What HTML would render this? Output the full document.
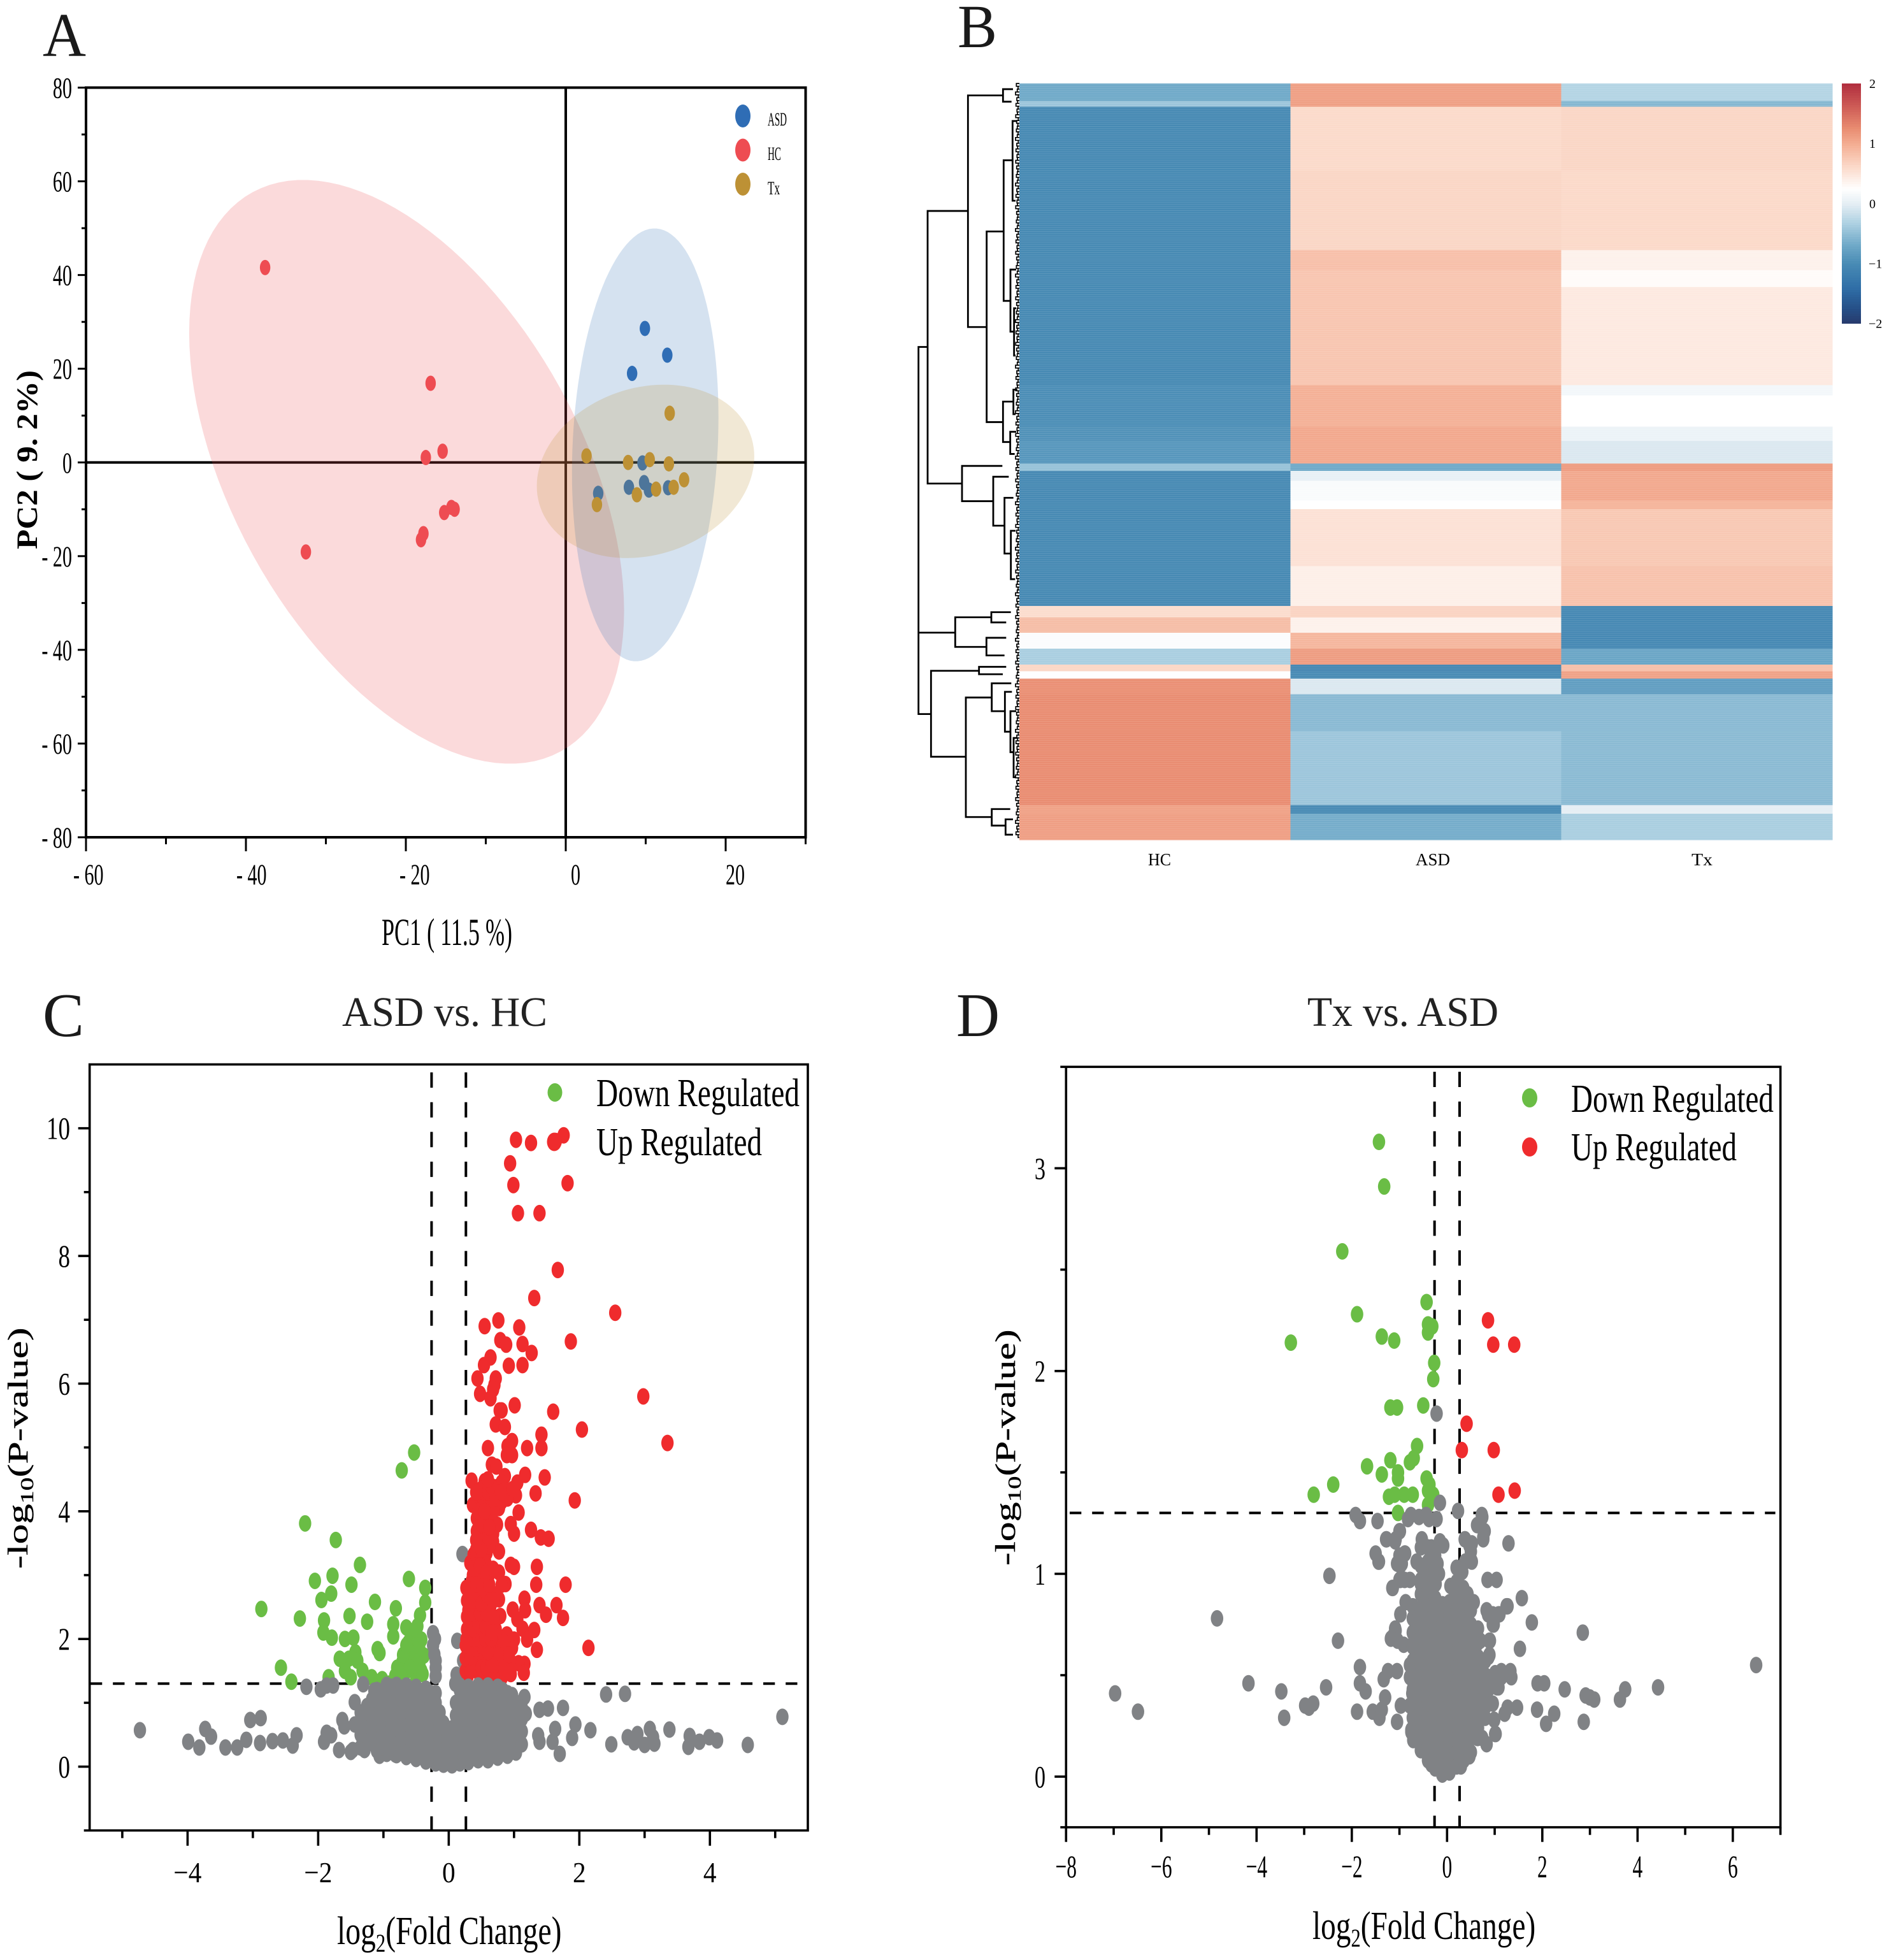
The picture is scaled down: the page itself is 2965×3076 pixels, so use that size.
<!DOCTYPE html>
<html lang="en">
<head>
<meta charset="utf-8">
<title>PCA, heatmap and volcano plots</title>
<style>
html,body{margin:0;padding:0;background:#fff;}
svg{display:block;}
text{font-family:"Liberation Serif","Noto Serif CJK SC",serif;fill:#000;}
</style>
</head>
<body>
<svg id="fig" xmlns="http://www.w3.org/2000/svg" width="2965" height="3076" viewBox="0 0 2965 3076">
  <defs>
    <pattern id="stripes" width="10" height="3.3" patternUnits="userSpaceOnUse">
      <rect width="10" height="1" fill="#fff" fill-opacity="0.13"/>
    </pattern>
  </defs>
  <rect width="2965" height="3076" fill="#fff"/>
  <g id="panelA"></g>
  <g id="panelB"></g>
  <g id="panelC"></g>
  <g id="panelD"></g>

  <text x="67" y="88" font-size="97" style="fill:#1a1a1a" textLength="68" lengthAdjust="spacingAndGlyphs">A</text>
  <text x="1503" y="74" font-size="96" style="fill:#1a1a1a" textLength="62" lengthAdjust="spacingAndGlyphs">B</text>
  <text x="67" y="1626" font-size="97" style="fill:#1a1a1a" textLength="65" lengthAdjust="spacingAndGlyphs">C</text>
  <text x="1501" y="1626" font-size="97" style="fill:#1a1a1a" textLength="68" lengthAdjust="spacingAndGlyphs">D</text>

  <text x="599" y="1483" font-size="60" textLength="205" lengthAdjust="spacingAndGlyphs">PC1 ( 11.5 %)</text>
  <text transform="translate(58,862) rotate(-90)" font-size="47" font-weight="bold" textLength="281" lengthAdjust="spacingAndGlyphs">PC2 ( 9. 2%)</text>
  <text x="1205" y="197" font-size="30" textLength="30" lengthAdjust="spacingAndGlyphs">ASD</text>
  <text x="1205" y="251" font-size="30" textLength="21" lengthAdjust="spacingAndGlyphs">HC</text>
  <text x="1205" y="305" font-size="30" textLength="19" lengthAdjust="spacingAndGlyphs">Tx</text>

  <text x="1802" y="1358" font-size="27" textLength="36" lengthAdjust="spacingAndGlyphs">HC</text>
  <text x="2222" y="1358" font-size="27" textLength="54" lengthAdjust="spacingAndGlyphs">ASD</text>
  <text x="2655" y="1358" font-size="27" textLength="33" lengthAdjust="spacingAndGlyphs">Tx</text>

  <text x="537" y="1610" font-size="66" style="fill:#222" textLength="322" lengthAdjust="spacingAndGlyphs">ASD vs. HC</text>
  <text x="2052" y="1610" font-size="66" style="fill:#222" textLength="300" lengthAdjust="spacingAndGlyphs">Tx vs. ASD</text>

  <text x="936" y="1736" font-size="62" textLength="319" lengthAdjust="spacingAndGlyphs">Down Regulated</text>
  <text x="936" y="1813" font-size="62" textLength="260" lengthAdjust="spacingAndGlyphs">Up Regulated</text>
  <text x="2466" y="1745" font-size="62" textLength="318" lengthAdjust="spacingAndGlyphs">Down Regulated</text>
  <text x="2466" y="1821" font-size="62" textLength="260" lengthAdjust="spacingAndGlyphs">Up Regulated</text>

  <text transform="translate(529,3051) scale(0.768,1)" font-size="62">log<tspan font-size="40" dy="12">2</tspan><tspan dy="-12">(Fold Change)</tspan></text>
  <text transform="translate(2060,3043) scale(0.763,1)" font-size="62">log<tspan font-size="40" dy="12">2</tspan><tspan dy="-12">(Fold Change)</tspan></text>
  <text transform="translate(43,2462) rotate(-90) scale(1.437,1)" font-size="44" stroke="#000" stroke-width="0.4">-log<tspan font-size="29" dy="9">10</tspan><tspan dy="-9">(P-value)</tspan></text>
  <text transform="translate(1593,2457) rotate(-90) scale(1.406,1)" font-size="44" stroke="#000" stroke-width="0.4">-log<tspan font-size="29" dy="9">10</tspan><tspan dy="-9">(P-value)</tspan></text>
</svg>

<script>
/* ---------- Panel A data ---------- */
const aXTicks=[-60,-40,-20,0,20];
const aXMinor=[-50,-30,-10,10,30];
const aXLabels=['- 60','- 40','- 20','0','20'];
const aYTicks=[-80,-60,-40,-20,0,20,40,60,80];
const aYMinor=[-70,-50,-30,-10,10,30,50,70];
const aYLabels=['- 80','- 60','- 40','- 20','0','20','40','60','80'];
const aHC=[[-37.6,41.6],[-32.5,-19.1],[-16.9,16.9],[-17.5,1.05],[-15.4,2.4],[-15.2,-10.7],[-14.3,-9.6],[-13.9,-10],[-17.8,-15.2],[-18.1,-16.5]];
const aASD=[[9.9,28.6],[12.7,22.9],[8.3,19],[9.6,-0.1],[9.8,-4.3],[7.9,-5.3],[10.4,-5.9],[12.8,-5.4],[4.06,-6.6]];
const aTx=[[13,10.5],[2.6,1.4],[7.8,0],[10.5,0.6],[12.9,-0.3],[14.8,-3.7],[13.5,-5.3],[11.3,-5.7],[8.9,-6.9],[3.9,-9]];
const aEllipseHC=[-19.9,27.2,-2,62.3,-0.476];
const aEllipseASD=[9.94,9.16,3.75,46.2,0.128];
const aEllipseTx=[9.98,13.6,-1.9,18.5,0.17];

/* ---------- Panel B data ---------- */
const bandRows=[31,10,112,140,35,30,172,18,55,25,40,13,17,35,15,100,70,20,27,28,28,12,13,27,65,130,15,46];
const bandHC=[-0.68,-0.42,-1.02,-1.02,-1.02,-1.02,-1.02,-0.97,-0.97,-0.93,-0.88,-0.45,-1.02,-1.02,-1.02,-1.02,-1.02,0.6,0.87,0.22,-0.34,0.65,0.25,1.25,1.27,1.27,1.1,1.13];
const bandASD=[1.12,1.12,0.62,0.66,0.85,0.8,0.8,0.98,0.98,1.05,1.05,-0.68,0.05,0.2,0.26,0.55,0.42,0.68,0.4,0.93,1.14,-1.05,-1.0,-0.05,-0.53,-0.42,-1.0,-0.65];
const bandTx=[-0.28,-0.55,0.66,0.63,0.4,0.3,0.47,0.15,0.26,0.08,-0.05,1.15,1.05,1.05,0.95,0.78,0.83,-1.03,-1.03,-1.03,-0.72,0.85,1.1,-0.8,-0.53,-0.52,0.02,-0.34];
const colormapValues=[2,1.62,1.27,1,0.63,0.26,0,-0.33,-0.68,-1,-1.39,-1.74,-2];
const colormapColors=['#b2303f','#cf5d57','#e98c71','#f4ae93','#fbd9c9','#ffffff','#e3edf3','#abcfe1','#6fa9c8','#478ab4','#2f6ea7','#254f87','#27396b'];
const colorbarLabels=['2','1','0','\u22121','\u22122'];
const colorbarTicks=[2,1,0,-1,-2];
/* merge height, top row, bottom row, top child height, bottom child height */
const dendroMerges=[
[475,463,965,432,302],[475,965,1108,475,416],[432,224,703,242,270],[242,21,428,77,154],[77,10,32,30,37],
[154,260,595,74,77],[74,135,382,32,42],[32,66,206,10,18],[42,327,436,15,25],[25,395,478,15,18],
[77,559,630,28,43],[28,538,581,10,18],[43,612,651,15,22],[270,672,734,80,123],[123,691,777,50,70],
[70,728,826,28,40],[40,786,871,18,20],[302,938,990,132,155],[132,929,947,40,62],[155,974,1005,62,70],
[416,1032,1183,190,252],[190,1025,1038,62,78],[252,1079,1289,130,130],[130,1054,1103,38,68],[68,1069,1139,35,42],
[42,1103,1175,15,27],[27,1150,1219,10,15],[130,1275,1304,43,65],[65,1293,1320,30,30]];
const leafHeights=[14,6,10,18,5,12,8,16,6,11,9,17,5,13,7,10];

/* ---------- Panel C data ---------- */
const cXTicks=[-4,-2,0,2,4];
const cXMinor=[-5,-3,-1,1,3,5];
const cXLabels=['\u22124','\u22122','0','2','4'];
const cYTicks=[0,2,4,6,8,10];
const cYMinor=[-1,1,3,5,7,9];
const cYLabels=['0','2','4','6','8','10'];
const cRed=[[1.03,9.82],[1.26,9.77],[1.76,9.89],[1.64,9.8],[0.94,9.45],[0.99,9.11],[1.82,9.14],[1.06,8.67],[1.39,8.67],[1.67,7.78],[1.31,7.34],[2.55,7.11],[0.55,6.9],[0.76,6.99],[1.08,6.88],[0.79,6.68],[0.88,6.61],[1.13,6.62],[1.27,6.48],[1.87,6.66],
[0.64,6.41],[0.54,6.29],[0.92,6.28],[1.13,6.29],[0.44,6.08],[0.72,6.08],[0.7,5.98],[0.68,5.91],[0.48,5.84],[0.64,5.77],[1.01,5.66],[0.81,5.58],[0.78,5.58],[1.6,5.56],[2.98,5.8],[0.72,5.36],[0.86,5.32],[2.04,5.28],[1.42,5.2],[0.97,5.1],[3.35,5.07],[0.6,4.99],[1.2,4.99],[1.42,4.99],[0.9,5.02],[0.89,4.88],[0.97,4.88],[0.66,4.73],[0.73,4.7],[0.86,4.55],[1.17,4.57],[1.47,4.53],[0.35,4.48],[0.55,4.47],[0.5,4.35],[0.74,4.38],[1.05,4.45],[0.81,4.45],[0.68,4.32],[1.03,4.25],[1.33,4.28],[1.93,4.17],[0.37,4.1],[0.58,4.17],[0.77,4.05],[0.81,4.15],[0.48,4.22],[0.9,4.32],[1.07,3.98],[0.43,3.89],[0.6,3.85],[0.74,3.79],[0.95,3.8],[1,3.65],[1.26,3.71],[1.41,3.59],[1.53,3.57],[0.43,3.69],[0.68,3.65],[0.48,3.52],[0.68,3.52],[0.77,3.37],[0.38,3.32],[0.58,3.35],[0.33,3.19],[0.42,3.22],[0.95,3.16],[1,3.13],[1.35,3.13],[0.55,3.09],[0.77,3.04],[0.35,2.9],[0.48,2.95],[0.61,2.99],[1.34,2.85],[1.79,2.85],[0.87,2.86],[0.81,2.85],[0.27,2.8],[0.45,2.77],[0.63,2.75],[0.77,2.62],[1.16,2.63],[1.39,2.53],[1.65,2.53],[1.17,2.45],[0.98,2.46],[1.49,2.38],[1.75,2.33],[0.3,2.45],[0.48,2.55],[0.64,2.52],[0.79,2.36],[1.05,2.31],[0.32,2.26],[0.51,2.29],[0.63,2.22],[0.32,2.12],[0.51,2.09],[1.31,2.14],[1.13,2.16],[0.89,2.07],[0.27,1.99],[0.48,1.96],[1.2,1.99],[1,1.99],[0.77,1.96],[0.97,1.86],[1.35,1.83],[2.14,1.86],[0.32,1.86],[0.5,1.79],[0.68,1.82],[0.84,1.76],[0.3,1.69],[0.55,1.62],[0.68,1.69],[1.16,1.61],[1.07,1.62],[0.94,1.66],[1.15,1.47],[0.29,1.52],[0.45,1.49],[0.63,1.52],[0.81,1.39],[0.29,1.42],[0.48,1.42],[0.68,1.42],[0.35,1.92],[0.45,1.76],
[0.36,2.6],[0.44,2.4],[0.52,2.42],[0.6,2.6],[0.4,2.2],[0.58,2.05],[0.4,2.0],[0.62,1.9],[0.38,1.62],[0.62,1.7],[0.72,1.6],[0.85,1.55],[0.95,1.45],[0.37,3.0],[0.55,2.85],[0.42,3.05],[0.7,2.7],[0.5,2.65],[0.72,2.15],[0.85,1.95],[0.92,1.75],[0.36,2.3],[0.56,3.2],[0.62,3.45],[0.52,3.6],[0.55,3.75],[0.62,3.95],[0.5,4.05],[0.68,4.0],[0.6,4.3],[0.9,4.2],[0.98,4.35],[0.45,1.6],[0.55,1.45],[0.75,1.75]];
const cRedDense=[[0.26,1.5],[0.34,1.5],[0.42,1.55],[0.5,1.55],[0.58,1.55],[0.66,1.6],[0.26,1.7],[0.34,1.72],[0.42,1.85],[0.52,1.88],[0.6,1.8],[0.26,1.9],[0.38,2.0],[0.46,2.0],[0.56,2.0],[0.65,2.0],[0.28,2.15],[0.38,2.15],[0.46,2.2],[0.56,2.2],[0.66,2.1],[0.28,2.35],[0.38,2.4],[0.48,2.4],[0.58,2.4],[0.68,2.35],[0.28,2.6],[0.4,2.6],[0.5,2.55],[0.58,2.7],[0.68,2.6],[0.32,2.75],[0.42,2.85],[0.52,2.8],[0.62,2.85],[0.38,3.1],[0.48,3.15],[0.58,3.05],[0.68,3.1],[0.42,3.4],[0.5,3.4],[0.6,3.6],[0.42,3.55],[0.5,3.8],[0.62,3.75],[0.45,4.0],[0.55,4.0],[0.72,4.2],[0.65,4.4],[0.42,4.3],[0.8,4.3],[0.6,4.5]];
const cGreen=[[-0.53,4.92],[-0.72,4.64],[-2.2,3.81],[-1.73,3.55],[-1.36,3.16],[-1.78,2.99],[-2.05,2.91],[-0.61,2.94],[-0.36,2.8],[-1.49,2.85],[-1.8,2.71],[-1.95,2.61],[-0.36,2.57],[-1.13,2.58],[-2.87,2.47],[-0.81,2.48],[-1.52,2.36],[-2.28,2.32],[-0.44,2.37],[-1.91,2.29],[-1.25,2.27],[-0.85,2.23],[-0.65,2.18],[-0.5,2.13],[-1.92,2.1],[-0.85,2.04],[-1.79,2.02],[-1.59,2],[-1.46,2.02],[-0.58,2.04],[-0.42,1.99],[-1.09,1.84],[-1.06,1.78],[-1.67,1.69],[-1.43,1.79],[-1.53,1.69],[-1.4,1.66],[-0.71,1.64],[-0.79,1.55],[-0.5,1.69],[-2.57,1.55],[-1.59,1.5],[-1.5,1.4],[-2.41,1.33],[-1.84,1.4],[-1.32,1.5],[-1.18,1.4],[-1.02,1.37],[-0.5,1.4],[-0.42,1.5],[-0.54,1.84],[-0.62,1.94],[-0.38,1.74],[-0.75,1.5],[-0.91,1.3],[-0.62,1.6],[-0.45,1.85],[-0.68,1.45],[-0.55,1.55],
[-0.5,1.9],[-0.6,1.8],[-0.45,1.6],[-0.7,1.75],[-0.65,1.9],[-0.4,1.45],[-0.48,2.2],[-0.6,1.55],[-0.72,1.4],[-0.82,1.42]];
const cGrayBack=[[0.21,3.33],[0.13,1.97],[0.22,1.66],[0.12,1.44],[0.1,1.3]];
const cGrayOutliers=[[-4.73,0.57],[-3.99,0.39],[-3.82,0.3],[-3.73,0.59],[-3.64,0.47],[-3.42,0.3],[-3.24,0.3],[-3.1,0.42],[-3.04,0.73],[-2.88,0.76],[-2.89,0.37],[-2.7,0.4],[-2.54,0.41],[-2.39,0.33],[-2.33,0.49],[-2.18,1.25],[-1.96,1.21],[-1.87,1.27],[-1.77,1.27],[-1.87,0.53],[-1.8,0.49],[-1.91,0.39],[-1.68,0.26],[-1.63,0.73],[-1.6,0.63],[-1.5,0.23],[-1.47,0.26],[-1.44,1.01],[-1.44,0.66],[-1.31,1.29],[-1.29,0.26],[-1.14,1.19],[-1.06,0.17],[-0.82,0.19],[-0.67,0.19],[-1.08,1.09],
[1.16,1.09],[2.41,1.13],[2.7,1.14],[0.97,1.12],[1.39,0.89],[1.52,0.91],[1.75,0.92],[1.18,0.83],[1.08,0.78],[1.94,0.66],[1.63,0.59],[1.89,0.45],[2.17,0.57],[1.37,0.49],[1.39,0.39],[1.59,0.39],[1.7,0.2],[2.49,0.35],[2.74,0.46],[2.84,0.38],[2.89,0.51],[3,0.34],[3.08,0.59],[3.13,0.46],[3.15,0.36],[3.38,0.58],[3.69,0.48],[3.67,0.31],[3.84,0.39],[3.99,0.46],[4.11,0.41],[4.58,0.34],[5.11,0.78],
[-0.24,2.09],[-0.21,2.0],[-0.24,1.9],[-0.22,1.76],[-0.2,1.66],[-0.2,1.55],[-0.2,1.42]];
const cGrayColumnX=[-1.25,-1.1,-0.95,-0.8,-0.65,-0.5,-0.35,-0.2,-0.08,0.05,0.17,0.3,0.45,0.6,0.75,0.9,1.03];
const cGrayColumnY=[
[0.35,0.55,0.75,0.95],
[0.25,0.45,0.65,0.85,1.05,1.2],
[0.2,0.4,0.6,0.8,1.0,1.18,1.28],
[0.18,0.38,0.58,0.78,0.98,1.18,1.28],
[0.15,0.35,0.55,0.75,0.95,1.15,1.27],
[0.12,0.32,0.52,0.72,0.92,1.12,1.25],
[0.08,0.28,0.48,0.68,0.88,1.08,1.22],
[0.05,0.2,0.4,0.6,0.8,1.0,1.15],
[0.03,0.18,0.35,0.55,0.68],
[0.02,0.17,0.35,0.5,0.6],
[0.05,0.2,0.4,0.6,0.8,1.0,1.2,1.27],
[0.07,0.25,0.45,0.65,0.85,1.05,1.25],
[0.1,0.3,0.5,0.7,0.9,1.1,1.27],
[0.1,0.3,0.5,0.7,0.9,1.1,1.27],
[0.14,0.34,0.54,0.74,0.94,1.14,1.25],
[0.17,0.37,0.57,0.77,0.97,1.15],
[0.22,0.42,0.62,0.82,1.0]];
const cGrayFillX=[-1.35,-1.175,-1.025,-0.875,-0.725,-0.575,-0.425,-0.275,-0.14,-0.02,0.11,0.235,0.375,0.525,0.675,0.825,0.965,1.12];
const cGrayFillY=[
[0.3,0.5,0.7,0.85],
[0.45,0.65,0.85,1.05],
[0.3,0.5,0.7,0.9,1.1],
[0.28,0.48,0.68,0.88,1.08,1.25],
[0.25,0.45,0.65,0.85,1.05,1.22],
[0.22,0.42,0.62,0.82,1.02,1.2],
[0.18,0.38,0.58,0.78,0.98,1.18],
[0.12,0.18,0.38,0.58,0.78,0.98,1.15],
[0.1,0.28,0.45,0.65,0.85],
[0.1,0.26,0.42,0.55],
[0.12,0.28,0.45,0.62,0.8,1.0],
[0.15,0.35,0.55,0.75,0.95,1.15],
[0.2,0.4,0.6,0.8,1.0,1.2],
[0.2,0.4,0.6,0.8,1.0,1.2],
[0.2,0.4,0.6,0.8,1.0,1.2],
[0.25,0.45,0.65,0.85,1.05,1.2],
[0.3,0.5,0.7,0.9,1.08],
[0.35,0.55,0.75,0.92]];

/* ---------- Panel D data ---------- */
const dXTicks=[-8,-6,-4,-2,0,2,4,6];
const dXMinor=[-7,-5,-3,-1,1,3,5,7];
const dXLabels=['\u22128','\u22126','\u22124','\u22122','0','2','4','6'];
const dYTicks=[0,1,2,3];
const dYMinor=[-0.25,0.5,1.5,2.5,3.5];
const dYLabels=['0','1','2','3'];
const dGreen=[[-1.43,3.13],[-1.32,2.91],[-2.2,2.59],[-0.43,2.34],[-1.89,2.28],[-0.4,2.23],[-0.31,2.22],[-0.4,2.19],[-1.37,2.17],[-1.11,2.15],[-3.28,2.14],[-0.27,2.04],[-0.29,1.96],[-1.19,1.82],[-1.05,1.82],[-0.5,1.83],[-0.63,1.63],[-0.7,1.57],[-1.19,1.56],[-0.78,1.55],[-1.68,1.53],[-1.03,1.5],[-1.37,1.49],[-1.03,1.47],[-0.43,1.47],[-0.37,1.44],[-2.39,1.44],[-0.4,1.41],[-2.8,1.39],[-0.9,1.39],[-1.1,1.39],[-1.22,1.38],[-0.72,1.39],[-0.29,1.39],[-1.03,1.3],[-0.4,1.34]];
const dRed=[[0.86,2.25],[0.97,2.13],[1.41,2.13],[0.41,1.74],[0.31,1.61],[0.98,1.61],[1.08,1.39],[1.42,1.41]];
const dGrayOutliers=[[-6.97,0.41],[-6.49,0.32],[-4.83,0.78],[-4.17,0.46],[-3.48,0.42],[-3.42,0.29],[-2.98,0.35],[-2.9,0.34],[-2.81,0.36],[-2.54,0.44],[-2.47,0.99],[-2.29,0.67],[-1.83,0.54],[-1.83,0.46],[-1.71,0.42],[-1.89,0.32],[-1.56,0.32],[-1.42,0.29],[-1.37,0.33],[-1.3,0.39],[-1.33,0.48],[-1.24,0.52],[-1.05,0.52],[-1.05,0.27],[-0.97,0.35],[-1.92,1.29],[-1.83,1.26],[-1.46,1.26],[-1.5,1.1],[-1.43,1.06],[-1.27,1.17],[-1.08,1.17],[-0.99,1.21],[-0.82,1.27],[-0.76,1.29],[-0.59,1.28],[-0.44,1.29],[-0.38,1.27],[-0.22,1.27],[-0.15,1.35],[-0.22,1.79],[0.23,1.31],[0.74,1.28],[0.63,1.24],[0.79,1.21],[0.76,1.17],[1.29,1.15],[0.37,1.17],[0.47,1.14],[0.5,1.07],[0.85,0.97],[1.04,0.97],[1.57,0.88],[1.27,0.84],[1.08,0.8],[0.86,0.8],[1.78,0.76],[0.98,0.75],[0.89,0.67],[1.53,0.63],[0.89,0.6],[2.85,0.71],[6.49,0.55],[1.9,0.46],[2.04,0.46],[2.47,0.43],[2.91,0.4],[3,0.39],[3.09,0.38],[3.74,0.43],[3.63,0.38],[4.43,0.44],[2.87,0.27],[1.89,0.33],[2.25,0.31],[2.08,0.26],[1.47,0.34],[1.27,0.34],[1.21,0.31],[1.14,0.52],[1.33,0.52],[1.35,0.49],[1.08,0.44],[0.89,0.49],[0.82,0.35],[1.02,0.21],[0.83,0.16],[0.64,0.19],[-1.14,0.69],[-1.08,0.72],[-0.98,0.8],[-1.14,0.93],[-0.98,0.97],[-0.88,1.1],[-0.98,1.04],[-0.75,0.23],[-0.66,0.19]];
const dGrayEdge=[[-1,1.21],[-1.28,1.17],[-1.09,1.16],[-1.44,1.06],[-0.89,1.1],[-1,1.09],[-1.05,1.05],[-0.95,1.05],[-0.53,1.17],[-0.55,1.13],[-0.33,1.13],[-0.15,1.16],[-0.08,1.14],[-0.64,1.06],[-0.2,1.05],[-0.17,1.0],[-0.89,0.97],[-1,0.97],[-1.15,0.93],[-0.78,0.97],[-0.55,0.95],[-0.24,0.95],[0.07,0.94],[0.32,1.01],[0.25,1.02],[0.38,1.06],[0.52,1.06],[0.5,1.11],[0.38,1.17],[0.52,1.15],[0.76,1.18],[0.78,1.21],[0.65,1.24],[0.73,1.29],[0.34,0.93],[0.43,0.9],[0.56,0.86],[0.83,0.82],[0.96,0.8],[1.1,0.8],[1.25,0.84],[0.96,0.75],[-0.87,0.86],[-0.98,0.8],[-1.09,0.73],[-1.18,0.68],[-1.04,0.67],[-0.91,0.65],[-0.73,0.65],[0.9,0.67],[0.87,0.59],[0.7,0.67],[-0.78,0.55],[-0.78,0.49],[-0.73,0.41],[-0.78,0.35],[-0.69,0.24],[-0.75,0.22],[-0.71,0.18],[-0.51,0.13],[-0.33,0.06],[0.47,0.1],[0.29,0.05],[0.83,0.16],[1.01,0.21],[0.74,0.19],[0.99,0.28],[0.96,0.36],[0.87,0.43],[0.74,0.51],[1.14,0.49],[1.32,0.51],[1.05,0.44],[1.01,0.51]];
const dGrayColumnX=[-0.72,-0.55,-0.4,-0.25,-0.1,0.05,0.2,0.35,0.5,0.65,0.8];
const dGrayColumnY=[
[0.22,0.29,0.36,0.43,0.5,0.57,0.64,0.71,0.78,0.84],
[0.13,0.2,0.27,0.34,0.41,0.48,0.55,0.62,0.69,0.76,0.83,0.9,0.97,1.04],
[0.08,0.15,0.22,0.29,0.36,0.43,0.5,0.57,0.64,0.71,0.78,0.85,0.92,0.99,1.06,1.13],
[0.04,0.11,0.18,0.25,0.32,0.39,0.46,0.53,0.6,0.67,0.74,0.81,0.88,0.95,1.02,1.09],
[0.01,0.08,0.15,0.22,0.29,0.36,0.43,0.5,0.57,0.64,0.71,0.78,0.85],
[0.02,0.09,0.16,0.23,0.3,0.37,0.44,0.51,0.58,0.65,0.72,0.79,0.86],
[0.05,0.12,0.19,0.26,0.33,0.4,0.47,0.54,0.61,0.68,0.75,0.82,0.89,0.96,1.03],
[0.08,0.15,0.22,0.29,0.36,0.43,0.5,0.57,0.64,0.71,0.78,0.85,0.92],
[0.12,0.19,0.26,0.33,0.4,0.47,0.54,0.61,0.68,0.75,0.82],
[0.24,0.31,0.38,0.45,0.52,0.59,0.66,0.73],
[0.29,0.36,0.43,0.5,0.57]];
const thresholdP=1.3;
const thresholdFC=0.263;

/* ---------- Helpers ---------- */
const NS='http://www.w3.org/2000/svg';
function mk(parent,tag,attrs,text){
  const el=document.createElementNS(NS,tag);
  for(const k in attrs){el.setAttribute(k,attrs[k]);}
  if(text!==undefined){el.textContent=text;}
  parent.appendChild(el);
  return el;
}
function linear(d0,d1,r0,r1){return v=>r0+(v-d0)*(r1-r0)/(d1-d0);}
function drawPoints(parent,pts,X,Y,rx,ry,color,name){
  pts.forEach(p=>{
    const el=mk(parent,'ellipse',{cx:X(p[0]),cy:Y(p[1]),rx:rx,ry:ry,fill:color});
    
    
  });
}
function drawColumns(parent,xs,ys,X,Y,rx,ry,color,name){
  xs.forEach((x,i)=>{
    ys[i].forEach(v=>{
      const el=mk(parent,'ellipse',{cx:X(x),cy:Y(v),rx:rx,ry:ry,fill:color});
      
      
    });
  });
}
function drawAxes(g,o){
  const sw=o.sw;
  const bx=o.X(o.xMin), bw=o.X(o.xMax)-bx, by=o.Y(o.yMax), bh=o.Y(o.yMin)-by;
  const frame=mk(g,'rect',{x:bx,y:by,width:bw,height:bh,fill:'none',stroke:'#000','stroke-width':sw});
  
  
  const bottom=o.Y(o.yMin), left=o.X(o.xMin);
  o.xTicks.forEach((v,i)=>{
    const t=mk(g,'line',{x1:o.X(v),x2:o.X(v),y1:bottom,y2:bottom+o.xMajorLen,stroke:'#000','stroke-width':o.tw});
    
    
    const dx=o.xDx?o.xDx[i]:0;
    const lbl=mk(g,'text',{transform:'translate('+(o.X(v)+dx)+','+o.xLabelY+') scale('+o.xScale+',1)','font-size':o.xFont,'text-anchor':o.xAnchor},o.xLabels[i]);
    
    
  });
  o.xMinor.forEach(v=>{
    const t=mk(g,'line',{x1:o.X(v),x2:o.X(v),y1:bottom,y2:bottom+o.xMinorLen,stroke:'#000','stroke-width':o.tw});
    
    
  });
  o.yTicks.forEach((v,i)=>{
    const t=mk(g,'line',{x1:left-o.yMajorLen,x2:left,y1:o.Y(v),y2:o.Y(v),stroke:'#000','stroke-width':o.tw});
    
    
    const lbl=mk(g,'text',{transform:'translate('+o.yLabelX+','+(o.Y(v)+o.yBase)+') scale('+o.yScale+',1)','font-size':o.yFont,'text-anchor':'end'},o.yLabels[i]);
    
    
  });
  o.yMinor.forEach(v=>{
    const t=mk(g,'line',{x1:left-o.yMinorLen,x2:left,y1:o.Y(v),y2:o.Y(v),stroke:'#000','stroke-width':o.tw});
    
    
  });
}

/* ---------- Panel A ---------- */
(function(){
  const g=document.getElementById('panelA');
  const X=linear(-60,30,135,1264.5), Y=linear(-80,80,1314,137.5);
  const hz=mk(g,'line',{x1:X(-60),x2:X(30),y1:Y(0),y2:Y(0),stroke:'#000','stroke-width':4});
  
  
  const vt=mk(g,'line',{x1:X(0),x2:X(0),y1:Y(80),y2:Y(-80),stroke:'#000','stroke-width':4});
  
  
  function ellipse(p,color,name){
    let d='';
    for(let i=0;i<120;i++){
      const t=i/120*2*Math.PI;
      const x=p[0]+p[1]*Math.cos(t);
      const y=p[2]+p[3]*(p[4]*Math.cos(t)+Math.sqrt(1-p[4]*p[4])*Math.sin(t));
      d+=(i?'L':'M')+X(x).toFixed(1)+' '+Y(y).toFixed(1);
    }
    const el=mk(g,'path',{d:d+'Z',fill:color});
    
    
  }
  ellipse(aEllipseHC,'rgba(236,80,85,0.21)','hc-confidence-ellipse');
  drawPoints(g,aHC,X,Y,8.2,12,'#ee4c52','hc-point');
  ellipse(aEllipseASD,'rgba(47,109,181,0.2)','asd-confidence-ellipse');
  drawPoints(g,aASD,X,Y,8.2,12,'#2f6db5','asd-point');
  ellipse(aEllipseTx,'rgba(190,148,55,0.21)','tx-confidence-ellipse');
  drawPoints(g,aTx,X,Y,8.2,12,'#bd9135','tx-point');
  drawAxes(g,{X,Y,xMin:-60,xMax:30,yMin:-80,yMax:80,sw:4,tw:3,
    xTicks:aXTicks,xMinor:aXMinor,xLabels:aXLabels,xMajorLen:22,xMinorLen:11,xLabelY:1388,xScale:0.64,xFont:47,xAnchor:'start',xDx:[-20,-15,-10,8,0],
    yTicks:aYTicks,yMinor:aYMinor,yLabels:aYLabels,yMajorLen:13,yMinorLen:7,yLabelX:113,yBase:16,yScale:0.64,yFont:47});
  const l1=mk(g,'ellipse',{cx:1166,cy:182,rx:12,ry:18,fill:'#2f6db5'});
  
  
  const l2=mk(g,'ellipse',{cx:1166,cy:235.5,rx:12,ry:18,fill:'#ee4c52'});
  
  
  const l3=mk(g,'ellipse',{cx:1166,cy:289,rx:12,ry:18,fill:'#bd9135'});
  
  
})();

/* ---------- Panel B ---------- */
(function(){
  const g=document.getElementById('panelB');
  const totalRows=bandRows.reduce((a,b)=>a+b,0);
  const rowY=linear(0,totalRows,131,1318);
  const colX=linear(0,3,1600,2876);
  function hexToRgb(h){return [parseInt(h.slice(1,3),16),parseInt(h.slice(3,5),16),parseInt(h.slice(5,7),16)];}
  function cmap(v){
    v=Math.max(-2,Math.min(2,v));
    for(let i=0;i<colormapValues.length-1;i++){
      const a=colormapValues[i], b=colormapValues[i+1];
      if(v<=a&&v>=b){
        const t=(a-v)/(a-b), c0=hexToRgb(colormapColors[i]), c1=hexToRgb(colormapColors[i+1]);
        return 'rgb('+c0.map((c,j)=>Math.round(c+(c1[j]-c)*t)).join(',')+')';
      }
    }
    return '#fff';
  }
  let row=0;
  bandRows.forEach((n,i)=>{
    [bandHC[i],bandASD[i],bandTx[i]].forEach((v,c)=>{
      const r=mk(g,'rect',{x:colX(c),y:rowY(row),width:colX(c+1)-colX(c)+0.4,height:rowY(row+n)-rowY(row)+0.4,fill:cmap(v),'shape-rendering':'crispEdges'});
      
      
    });
    row+=n;
  });
  const st=mk(g,'rect',{x:colX(0),y:rowY(0),width:colX(3)-colX(0),height:rowY(totalRows)-rowY(0),fill:'url(#stripes)'});
  
  

  const hX=h=>1600-h/3;
  let d='';
  dendroMerges.forEach(m=>{
    d+='M'+hX(m[3])+' '+rowY(m[1])+'H'+hX(m[0])+'V'+rowY(m[2])+'H'+hX(m[4]);
  });
  const tree=mk(g,'path',{d:d,fill:'none',stroke:'#000','stroke-width':2.8});
  
  
  let leaf='';
  let k=0;
  for(let r=0;r<totalRows-4;r+=5){
    const h=leafHeights[k%leafHeights.length];
    k++;
    leaf+='M1600 '+rowY(r).toFixed(1)+'H'+hX(h).toFixed(1)+'V'+rowY(r+5).toFixed(1)+'H1600';
  }
  const leaves=mk(g,'path',{d:leaf,fill:'none',stroke:'#000','stroke-width':1.7});
  
  

  const cbY=linear(2,-2,131,507.5);
  for(let v=2;v>-2;v-=0.04){
    const r=mk(g,'rect',{x:2891,y:cbY(v),width:30,height:cbY(v-0.04)-cbY(v)+0.4,fill:cmap(v),'shape-rendering':'crispEdges'});
    
    
  }
  colorbarTicks.forEach((v,i)=>{
    const t=mk(g,'text',{x:colorbarLabels[i].length>1?2933:2934,y:cbY(v)+7,'font-size':20},colorbarLabels[i]);
    
    
  });
})();

/* ---------- Volcano shared ---------- */
function thresholdLines(g,X,Y,xMin,xMax,startX,topDash){
  const h=mk(g,'line',{x1:startX,x2:X(xMax)-8,y1:Y(thresholdP),y2:Y(thresholdP),stroke:'#000','stroke-width':4,'stroke-dasharray':'18.3 16.9'});
  
  
  const v1=mk(g,'line',{x1:X(-thresholdFC),x2:X(-thresholdFC),y1:topDash,y2:Y.bottom,stroke:'#000','stroke-width':4,'stroke-dasharray':'24 22.7'});
  
  
  const v2=mk(g,'line',{x1:X(thresholdFC),x2:X(thresholdFC),y1:topDash,y2:Y.bottom,stroke:'#000','stroke-width':4,'stroke-dasharray':'24 22.7'});
  
  
}
const RED='#ef2b2d', GREEN='#6abd45', GRAY='#808285';

/* ---------- Panel C ---------- */
(function(){
  const g=document.getElementById('panelC');
  const X=linear(-5.5,5.5,140.7,1268), Y=linear(-1,11,2872.7,1670.5);
  Y.bottom=2872.7;
  thresholdLines(g,X,Y,-5.5,5.5,142,1683);
  drawPoints(g,cGrayBack,X,Y,9.7,13,GRAY,'not-significant-point');
  drawPoints(g,cRed,X,Y,9.7,13,RED,'up-regulated-point');
  drawPoints(g,cRedDense,X,Y,9.7,13,RED,'up-regulated-point');
  drawPoints(g,cGreen,X,Y,9.7,13,GREEN,'down-regulated-point');
  drawPoints(g,cGrayOutliers,X,Y,9.7,13,GRAY,'not-significant-point');
  drawColumns(g,cGrayColumnX,cGrayColumnY,X,Y,9.7,13,GRAY,'not-significant-point');
  drawColumns(g,cGrayFillX,cGrayFillY,X,Y,9.7,13,GRAY,'not-significant-point');
  drawAxes(g,{X,Y,xMin:-5.5,xMax:5.5,yMin:-1,yMax:11,sw:3.6,tw:3.6,
    xTicks:cXTicks,xMinor:cXMinor,xLabels:cXLabels,xMajorLen:24,xMinorLen:12,xLabelY:2954,xScale:0.9,xFont:46,xAnchor:'middle',
    yTicks:cYTicks,yMinor:cYMinor,yLabels:cYLabels,yMajorLen:18,yMinorLen:9,yLabelX:110,yBase:17,yScale:0.74,yFont:50});
  const l1=mk(g,'ellipse',{cx:871,cy:1714.5,rx:11.5,ry:14.5,fill:GREEN});
  
  
  const l2=mk(g,'ellipse',{cx:870,cy:1792,rx:11.5,ry:14.5,fill:RED});
  
  
})();

/* ---------- Panel D ---------- */
(function(){
  const g=document.getElementById('panelD');
  const X=linear(-8,7,1673.3,2794.6), Y=linear(-0.25,3.5,2867.7,1674.3);
  Y.bottom=2867.7;
  thresholdLines(g,X,Y,-8,7,1679,1682);
  drawPoints(g,dRed,X,Y,9.8,13,RED,'up-regulated-point');
  drawPoints(g,dGreen,X,Y,9.8,13,GREEN,'down-regulated-point');
  drawPoints(g,dGrayOutliers,X,Y,9.8,13,GRAY,'not-significant-point');
  drawPoints(g,dGrayEdge,X,Y,9.8,13,GRAY,'not-significant-point');
  drawColumns(g,dGrayColumnX,dGrayColumnY,X,Y,9.8,13,GRAY,'not-significant-point');
  drawAxes(g,{X,Y,xMin:-8,xMax:7,yMin:-0.25,yMax:3.5,sw:3.6,tw:3.6,
    xTicks:dXTicks,xMinor:dXMinor,xLabels:dXLabels,xMajorLen:23,xMinorLen:12,xLabelY:2946,xScale:0.63,xFont:50,xAnchor:'middle',
    yTicks:dYTicks,yMinor:dYMinor,yLabels:dYLabels,yMajorLen:18,yMinorLen:9,yLabelX:1641,yBase:17,yScale:0.7,yFont:49});
  const l1=mk(g,'ellipse',{cx:2401,cy:1723,rx:12,ry:15,fill:GREEN});
  
  
  const l2=mk(g,'ellipse',{cx:2401,cy:1800,rx:12,ry:15,fill:RED});
  
  
})();
</script>
</body>
</html>
